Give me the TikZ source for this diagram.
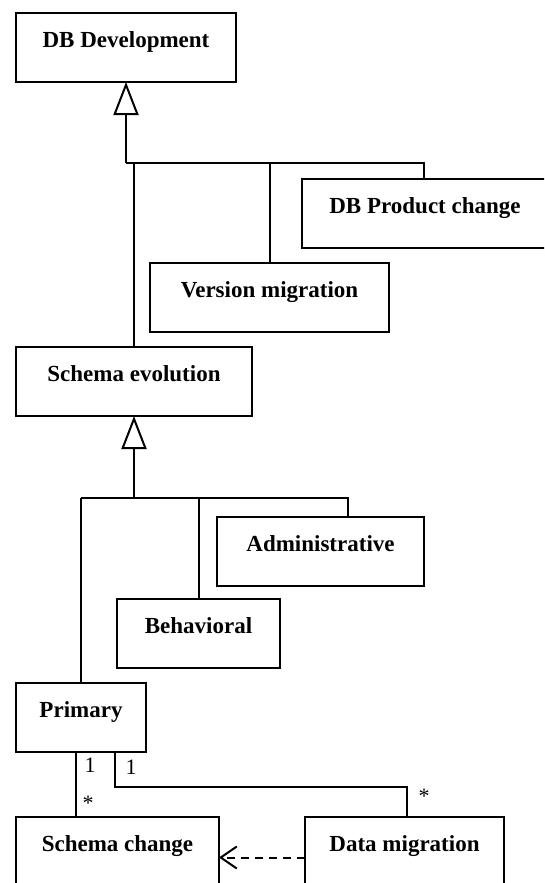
\documentclass[tikz,border=0pt]{standalone}
\usepackage{fontspec}
\setmainfont{Liberation Serif}
\usetikzlibrary{arrows.meta}

\begin{document}
\begin{tikzpicture}[x=1pt,y=-1pt,
        cls/.style={draw,line width=2pt,anchor=north west,outer sep=0pt,
            inner xsep=0pt,inner ysep=0pt,text height=34.5pt,text depth=34.5pt,
            font=\fontsize{23}{27}\selectfont\bfseries},
        gen/.style={line width=2.8pt,-{Triangle[open,length=33pt,width=25pt,line width=2pt]}},
        thk/.style={line width=2.8pt},
        thn/.style={line width=2pt},
        dep/.style={line width=2pt,dash pattern=on 8pt off 6pt,-{Straight Barb[length=16pt,width=22pt,line width=2pt]}},
        mult/.style={font=\fontsize{22}{26}\selectfont,inner sep=0pt}]

    \useasboundingbox (0,0) rectangle (544,883);
    \clip (0,0) rectangle (544,883);

    % classes
    \node[cls,minimum width=220pt] (dbdev)   at (16,13)   {DB Development};
    \node[cls,minimum width=246pt] (prodchg) at (302,179) {DB Product change};
    \node[cls,minimum width=239pt] (vermig)  at (150,263) {Version migration};
    \node[cls,minimum width=236pt] (schevo)  at (16,347)  {Schema evolution};
    \node[cls,minimum width=207pt] (admin)   at (217,517) {Administrative};
    \node[cls,minimum width=163pt] (behav)   at (117,599) {Behavioral};
    \node[cls,minimum width=130pt] (primary) at (16,683)  {Primary};
    \node[cls,minimum width=203pt] (schchg)  at (16,817)  {Schema change};
    \node[cls,minimum width=199pt] (datmig)  at (305,817) {Data migration};

    % generalization of DB Development
    \coordinate (j1) at (dbdev.south |- 0,163);
    \draw[gen] (j1) -- (dbdev.south);
    \draw[thk] (j1) -- (vermig.north |- j1);
    \draw[thn] (vermig.north |- j1) -| ([xshift=-1pt]prodchg.north);
    \draw[thn] (vermig.north |- j1) -- (vermig.north);
    \draw[thn] (schevo.north |- j1) -- (schevo.north);

    % generalization of Schema evolution
    \coordinate (j2) at (schevo.south |- 0,498);
    \draw[gen] (j2) -- (schevo.south);
    \draw[thk] (primary.north |- j2) -- (behav.north |- j2);
    \draw[thn] (primary.north |- j2) -- (primary.north);
    \draw[thn] (behav.north |- j2) -- (behav.north);
    \draw[thn] (behav.north |- j2) -| ([xshift=27pt]admin.north);

    % associations
    \draw[thn] ([xshift=-5pt]primary.south) -- ([xshift=-5pt]primary.south |- schchg.north);
    \draw[thn] ([xshift=34pt]primary.south) -- ++(0,35) -| ([xshift=2pt]datmig.north);
    \node[mult] (m1) at (90,765)  {1};
    \node[mult] (m2) at (131,767) {1};
    \node[mult] (s1) at (88,803)  {*};
    \node[mult] (s2) at (424,796) {*};

    \draw[dep] ([yshift=-6pt]datmig.west) -- ([yshift=-6pt]schchg.east);
\end{tikzpicture}
\end{document}
